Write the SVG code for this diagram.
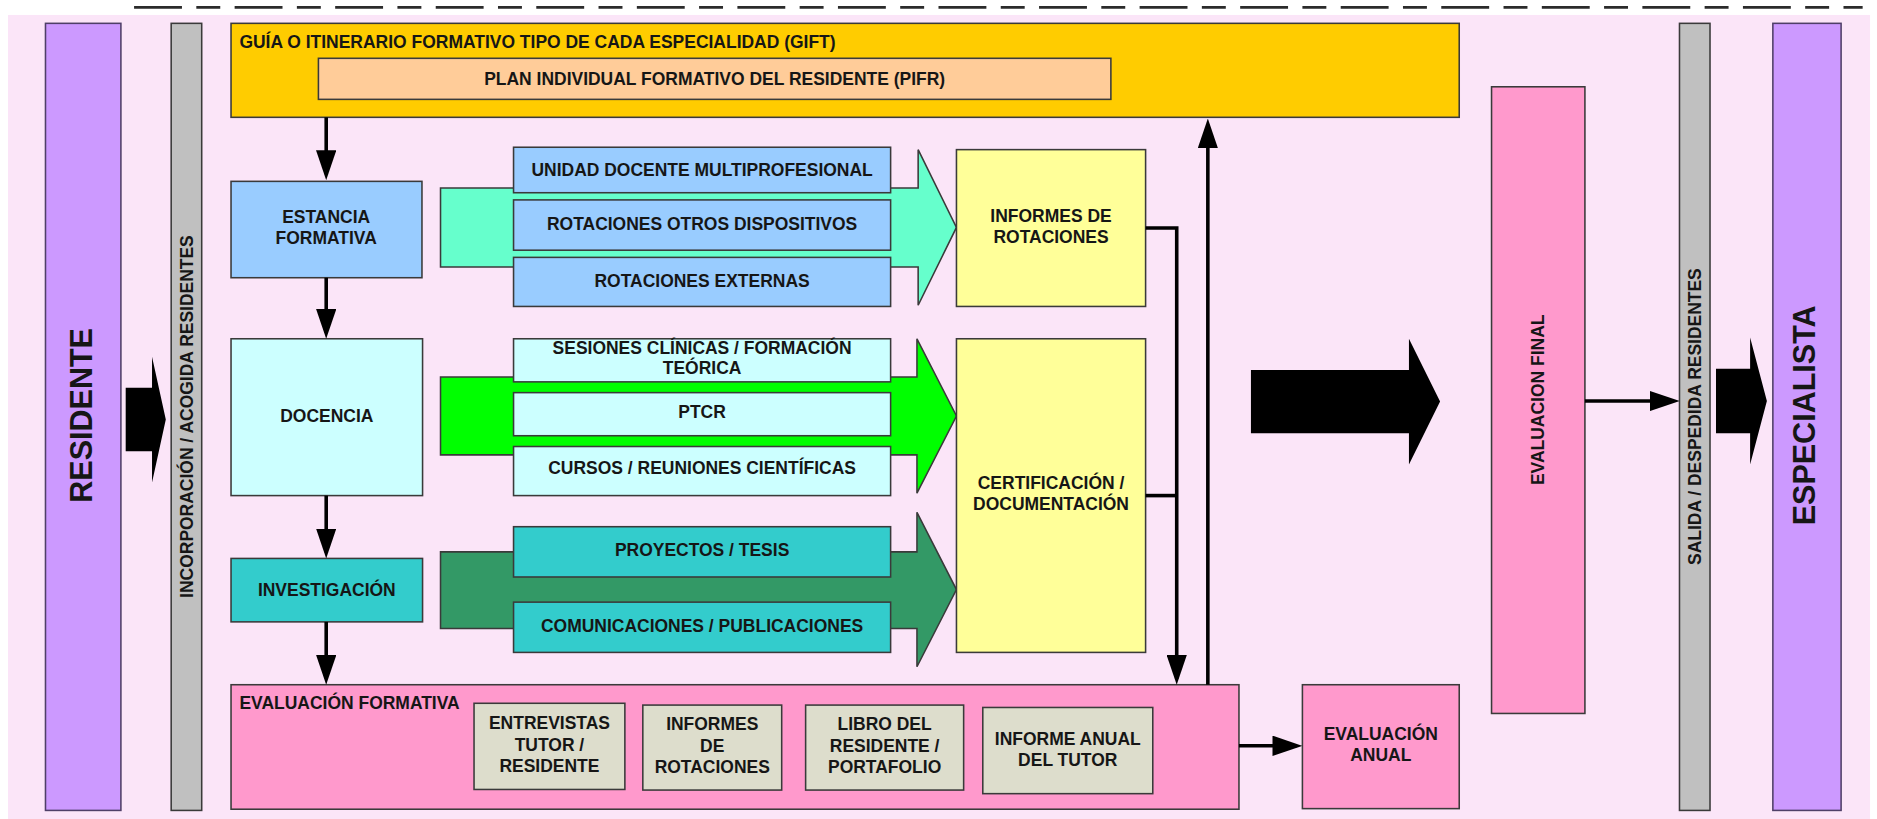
<svg xmlns="http://www.w3.org/2000/svg" width="1877" height="819" viewBox="0 0 1877 819">
<defs>
<style>
.t{font-family:"Liberation Sans",Arial,Helvetica,sans-serif;font-weight:bold;font-size:14.6px;fill:#161616;text-anchor:middle}
.st{text-anchor:start}
.big{font-size:25.5px}
.bx{stroke:#3a3a3a;stroke-width:1.3}
.purple{fill:#CC99FF;stroke:#4f3f68;stroke-width:1.3}
.gray{fill:#C0C0C0;stroke:#3a3a3a;stroke-width:1.3}
.pink{fill:#FF99CC}
.yellow{fill:#FFFF99}
.blue{fill:#99CCFF}
.cyan{fill:#CCFFFF}
.teal{fill:#33CCCC}
.khaki{fill:#DDDDCC}
.conn{fill:none;stroke:#000;stroke-width:3}
.block{fill:#000}
</style>
<marker id="ah" markerUnits="userSpaceOnUse" viewBox="0 0 25 17" markerWidth="25" markerHeight="17" refX="20" refY="8.5" orient="auto">
<path d="M0,0 L25,8.5 L0,17 Z" fill="#000"/>
</marker>
</defs>
<rect x="0" y="0" width="1877" height="819" fill="#FFFFFF"/>
<g transform="scale(1.19707)">
<rect x="6.7" y="12.5" width="1555.5" height="675" fill="#FBE5F8"/>
<line x1="112" y1="6.2" x2="1556" y2="6.2" stroke="#2b2b2b" stroke-width="2.3" stroke-dasharray="40 12 20 12"/>

<g id="residente">
<rect class="purple" x="38" y="19.5" width="63" height="657.5"/>
<text class="t big" transform="translate(68,347) rotate(-90)" y="9.1">RESIDENTE</text>
</g>
<g id="incorporacion">
<rect class="gray" x="143" y="19.5" width="25.5" height="657.5"/>
<text class="t" transform="translate(156,348) rotate(-90)" y="5.2">INCORPORACIÓN / ACOGIDA RESIDENTES</text>
</g>
<g id="gift">
<rect class="bx" fill="#FFCC00" x="193" y="19.5" width="1026" height="78.5"/>
<text class="t st" x="200" y="40.5">GUÍA O ITINERARIO FORMATIVO TIPO DE CADA ESPECIALIDAD (GIFT)</text>
</g>
<g id="pifr">
<rect class="bx" fill="#FFCC99" x="266" y="48.7" width="662" height="34.3"/>
<text class="t" x="597" y="71">PLAN INDIVIDUAL FORMATIVO DEL RESIDENTE (PIFR)</text>
</g>
<g id="estancia-formativa">
<rect class="bx blue" x="193" y="151.5" width="159.5" height="80.5"/>
<text class="t" x="272.5" y="186">ESTANCIA</text>
<text class="t" x="272.5" y="204">FORMATIVA</text>
</g>
<g id="docencia">
<rect class="bx cyan" x="193" y="283" width="160" height="131"/>
<text class="t" x="273" y="352.5">DOCENCIA</text>
</g>
<g id="investigacion">
<rect class="bx teal" x="193" y="466.5" width="160" height="53"/>
<text class="t" x="273" y="497.5">INVESTIGACIÓN</text>
</g>

<g id="flujo-estancia">
<polygon class="bx" fill="#66FFCC" points="368,157 767,157 767,125 799,190 767,255 767,223 368,223"/>
</g>
<g id="unidad-docente">
<rect class="bx blue" x="429" y="123" width="315" height="38"/>
<text class="t" x="586.5" y="147">UNIDAD DOCENTE MULTIPROFESIONAL</text>
</g>
<g id="rotaciones-otros">
<rect class="bx blue" x="429" y="167" width="315" height="42"/>
<text class="t" x="586.5" y="192.5">ROTACIONES OTROS DISPOSITIVOS</text>
</g>
<g id="rotaciones-externas">
<rect class="bx blue" x="429" y="215" width="315" height="41"/>
<text class="t" x="586.5" y="240">ROTACIONES EXTERNAS</text>
</g>
<g id="informes-rotaciones">
<rect class="bx yellow" x="799" y="125" width="158" height="131"/>
<text class="t" x="878" y="185.2">INFORMES DE</text>
<text class="t" x="878" y="203.3">ROTACIONES</text>
</g>

<g id="flujo-docencia">
<polygon class="bx" fill="#00FF00" points="368,315 766,315 766,283 799,347.5 766,412 766,380 368,380"/>
</g>
<g id="sesiones-clinicas">
<rect class="bx cyan" x="429" y="283" width="315" height="36"/>
<text class="t" x="586.5" y="295.7">SESIONES CLÍNICAS / FORMACIÓN</text>
<text class="t" x="586.5" y="312.5">TEÓRICA</text>
</g>
<g id="ptcr">
<rect class="bx cyan" x="429" y="328" width="315" height="36"/>
<text class="t" x="586.5" y="349">PTCR</text>
</g>
<g id="cursos">
<rect class="bx cyan" x="429" y="373" width="315" height="41"/>
<text class="t" x="586.5" y="396">CURSOS / REUNIONES CIENTÍFICAS</text>
</g>

<g id="flujo-investigacion">
<polygon class="bx" fill="#339966" points="368,461 766,461 766,428 799,492.5 766,557 766,525 368,525"/>
</g>
<g id="proyectos">
<rect class="bx teal" x="429" y="440" width="315" height="42"/>
<text class="t" x="586.5" y="464.5">PROYECTOS / TESIS</text>
</g>
<g id="comunicaciones">
<rect class="bx teal" x="429" y="503" width="315" height="42"/>
<text class="t" x="586.5" y="527.7">COMUNICACIONES / PUBLICACIONES</text>
</g>
<g id="certificacion">
<rect class="bx yellow" x="799" y="283" width="158" height="262"/>
<text class="t" x="878" y="408.5">CERTIFICACIÓN /</text>
<text class="t" x="878" y="426">DOCUMENTACIÓN</text>
</g>

<g id="evaluacion-formativa">
<rect class="bx pink" x="193" y="572" width="842" height="104"/>
<text class="t st" x="200" y="592">EVALUACIÓN FORMATIVA</text>
</g>
<g id="entrevistas">
<rect class="bx khaki" x="396" y="587.5" width="126" height="72"/>
<text class="t" x="459" y="609">ENTREVISTAS</text>
<text class="t" x="459" y="627">TUTOR /</text>
<text class="t" x="459" y="645">RESIDENTE</text>
</g>
<g id="informes-de-rotaciones">
<rect class="bx khaki" x="537" y="589" width="116" height="71"/>
<text class="t" x="595" y="610">INFORMES</text>
<text class="t" x="595" y="628">DE</text>
<text class="t" x="595" y="646">ROTACIONES</text>
</g>
<g id="libro-residente">
<rect class="bx khaki" x="673" y="589" width="132" height="71"/>
<text class="t" x="739" y="610">LIBRO DEL</text>
<text class="t" x="739" y="628">RESIDENTE /</text>
<text class="t" x="739" y="646">PORTAFOLIO</text>
</g>
<g id="informe-anual">
<rect class="bx khaki" x="821" y="591" width="142" height="72"/>
<text class="t" x="892" y="622.3">INFORME ANUAL</text>
<text class="t" x="892" y="639.5">DEL TUTOR</text>
</g>
<g id="evaluacion-anual">
<rect class="bx pink" x="1088" y="572" width="131" height="103.5"/>
<text class="t" x="1153.5" y="618">EVALUACIÓN</text>
<text class="t" x="1153.5" y="636">ANUAL</text>
</g>
<g id="evaluacion-final">
<rect class="bx pink" x="1246" y="72.5" width="78" height="523.5"/>
<text class="t" transform="translate(1284.5,334) rotate(-90)" y="5.2">EVALUACION FINAL</text>
</g>
<g id="salida">
<rect class="gray" x="1403" y="19.5" width="25.5" height="657.5"/>
<text class="t" transform="translate(1416,348) rotate(-90)" y="5.2">SALIDA / DESPEDIDA RESIDENTES</text>
</g>
<g id="especialista">
<rect class="purple" x="1481" y="19.5" width="57" height="657.5"/>
<text class="t big" transform="translate(1507,347) rotate(-90)" y="9.1">ESPECIALISTA</text>
</g>

<g id="connectors">
<polygon class="block" points="105,324 127,324 127,298 138.5,350.5 127,403 127,377 105,377"/>
<polygon class="block" points="1045,309 1177,309 1177,283 1203,335.5 1177,388 1177,362 1045,362"/>
<polygon class="block" points="1433.5,308 1462,308 1462,282 1476,335 1462,388 1462,362 1433.5,362"/>
<path class="conn" d="M272.5,98 V145.5" marker-end="url(#ah)"/>
<path class="conn" d="M272.5,232 V278" marker-end="url(#ah)"/>
<path class="conn" d="M272.5,414 V461.5" marker-end="url(#ah)"/>
<path class="conn" d="M272.5,519.5 V567" marker-end="url(#ah)"/>
<path class="conn" d="M957,190.5 H983 V567" marker-end="url(#ah)"/>
<path class="conn" d="M957,414 H983"/>
<path class="conn" d="M1009,572 V104" marker-end="url(#ah)"/>
<path class="conn" d="M1035,623 H1083" marker-end="url(#ah)"/>
<path class="conn" d="M1324,335 H1398" marker-end="url(#ah)"/>
</g>
</g>
</svg>
